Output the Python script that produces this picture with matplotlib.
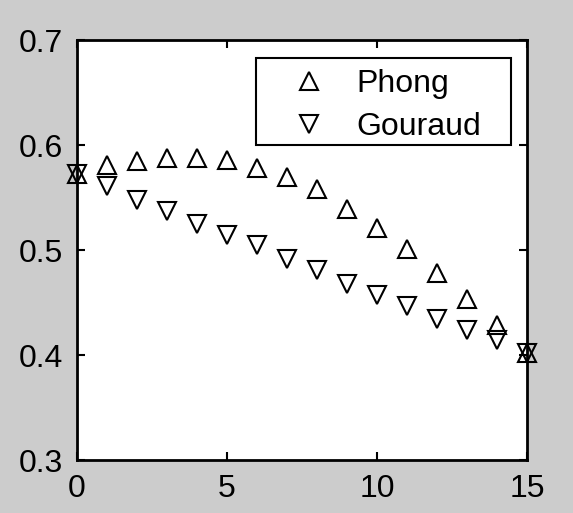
import matplotlib
matplotlib.use("Agg")
import matplotlib.pyplot as plt
from matplotlib.patches import Rectangle

plt.rcParams["font.family"] = ["Liberation Sans", "DejaVu Sans"]

# values
x = list(range(16))
phong = [0.572, 0.581, 0.585, 0.588, 0.588, 0.586, 0.578, 0.570,
         0.558, 0.539, 0.521, 0.501, 0.478, 0.453, 0.429, 0.402]
gouraud = [0.572, 0.561, 0.548, 0.537, 0.525, 0.514, 0.505, 0.491,
           0.481, 0.468, 0.457, 0.447, 0.434, 0.424, 0.414, 0.402]
xticks = [0, 5, 10, 15]
yticks = [0.3, 0.4, 0.5, 0.6, 0.7]

fig = plt.figure(figsize=(5.73, 5.13), dpi=100, facecolor="#cccccc")
ax = fig.add_axes([0.1344, 0.1033, 0.7853, 0.8187])
ax.set_facecolor("white")

ax.plot(x, phong, linestyle="none", marker="^", ms=12.5, mfc="none",
        mec="black", mew=1.5, label="Phong", clip_on=False)
ax.plot(x, gouraud, linestyle="none", marker="v", ms=12.5, mfc="none",
        mec="black", mew=1.5, label="Gouraud", clip_on=False)

ax.set_xlim(0, 15)
ax.set_ylim(0.3, 0.7)
ax.set_xticks(xticks)
ax.set_yticks(yticks)
ax.set_xticklabels([str(t) for t in xticks])
ax.set_yticklabels([f"{t:.1f}" for t in yticks])
ax.tick_params(direction="in", length=6, width=1.5, labelsize=23,
               top=True, right=True, pad=10)
for s in ax.spines.values():
    s.set_linewidth(2)

# legend box drawn by hand, entries placed inside it
ax.add_patch(Rectangle((0.398, 0.750), 0.566, 0.207, transform=ax.transAxes,
                       facecolor="white", edgecolor="black", lw=1.5,
                       zorder=4))
leg = ax.legend(loc="upper left", bbox_to_anchor=(0.398, 0.957),
                borderaxespad=0, fontsize=23, frameon=False,
                handlelength=2.6, handletextpad=0.2, borderpad=0.35,
                labelspacing=0.41, numpoints=1)
leg.set_zorder(5)

fig.savefig("out.png", dpi=100, facecolor=fig.get_facecolor())
